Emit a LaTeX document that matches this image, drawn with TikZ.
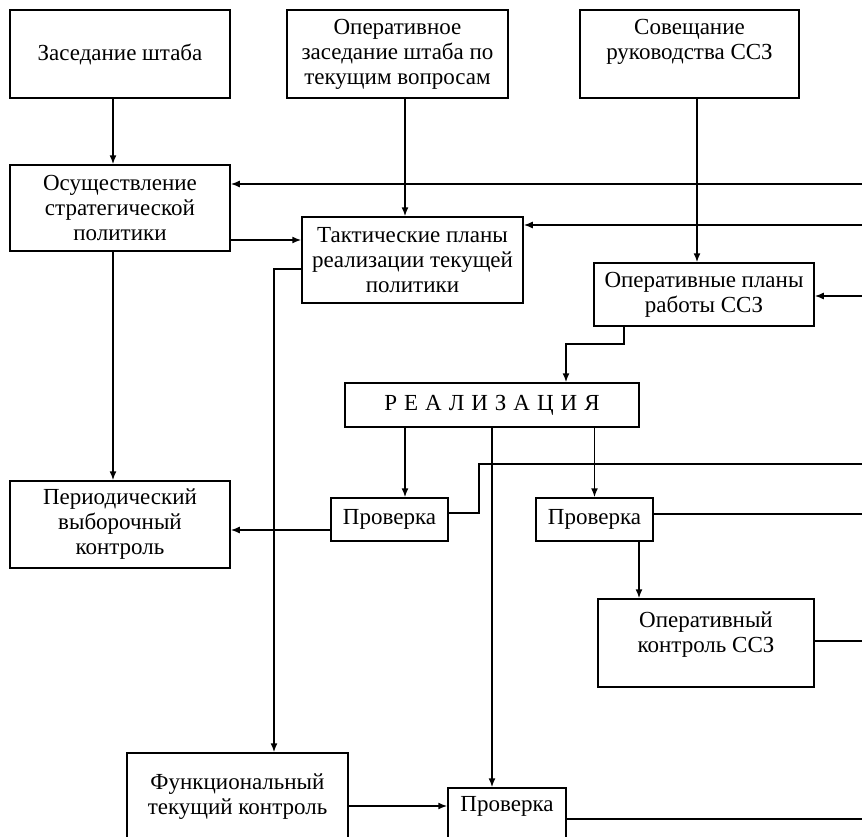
\documentclass[tikz,border=0pt]{standalone}
\usepackage{fontspec}
\setmainfont{Liberation Serif}
\usetikzlibrary{arrows.meta}

\begin{document}
\begin{tikzpicture}[x=1pt, y=-1pt, line width=1.5pt,
    box/.style={draw, align=center, inner sep=1pt,
      font=\fontsize{23}{25}\selectfont},
    arr/.style={-{Latex[length=9pt,width=7pt]}}]
  \clip (0,0) rectangle (862,836);
	% upper row
	\node[box, minimum width=220, minimum height=88] (shtab) at (120,54) {Заседание штаба};
	\node[box, minimum width=221, minimum height=88] (oper) at (397.5,54) {Оперативное\\заседание штаба по\\текущим вопросам};
	\node[box, minimum width=219, minimum height=88, text depth=30pt] (sov) at (689.5,54) {Совещание\\руководства ССЗ};
	% plans
	\node[box, minimum width=220, minimum height=86] (strat) at (120,208) {Осуществление\\стратегической\\политики};
	\node[box, minimum width=221, minimum height=86] (takt) at (412.5,260) {Тактические планы\\реализации текущей\\политики};
	\node[box, minimum width=220, minimum height=63] (oplan) at (704,294.5) {Оперативные планы\\работы ССЗ};
	\node[box, minimum width=294, minimum height=44] (real) at (492,405) {\spaceskip=7pt\relax Р Е А Л И З А Ц И Я};
	% control
	\node[box, minimum width=117, minimum height=43] (prov1) at (389.5,519.5) {Проверка};
	\node[box, minimum width=117, minimum height=43] (prov2) at (594.5,519.5) {Проверка};
	\node[box, minimum width=220, minimum height=87] (period) at (120,524.5) {Периодический\\выборочный\\контроль};
	\node[box, minimum width=216, minimum height=88, text depth=21pt] (opkontr) at (706,643) {Оперативный\\контроль ССЗ};
	\node[box, minimum width=221, minimum height=88] (func) at (237.5,797) {Функциональный\\текущий контроль};
	\node[box, minimum width=118, minimum height=60, text depth=29pt] (prov3) at (507,818) {Проверка};
	% free ends on the right side
	\coordinate (r1) at (862,184);
	\coordinate (r2) at (862,225);
	\coordinate (r3) at (862,296);
	\coordinate (e1) at (862,464);
	\coordinate (e2) at (862,514);
	\coordinate (e3) at (862,641);
	\coordinate (e4) at (862,819);
	% arrows down
	\draw[arr] ([xshift=-7pt]shtab.south) -- ([xshift=-7pt]strat.north);
	\draw[arr] ([xshift=7.5pt]oper.south) -- ([xshift=7.5pt]oper.south |- takt.north);
	\draw[arr] ([xshift=7.5pt]sov.south) -- ([xshift=7.5pt]sov.south |- oplan.north);
	\draw[arr] ([xshift=-7pt]strat.south) -- ([xshift=-7pt]period.north);
	\draw[arr] ([xshift=-80pt]oplan.south) -- ++(0,17) -| ([xshift=74pt]real.north);
	\draw[arr] ([xshift=-87pt]real.south) -- ([xshift=-87pt]real.south |- prov1.north);
	\draw[arr] (prov2.north |- real.south) -- (prov2.north);
	\draw[arr] (real.south) -- (real.south |- prov3.north);
	\draw[arr] ([xshift=44.5pt]prov2.south) -- ([xshift=44.5pt]prov2.south |- opkontr.north);
	\draw[arr] ([yshift=-9pt]takt.west) -| ([xshift=36.5pt]func.north);
	% arrows across
	\draw[arr] ([yshift=-32pt]strat.east) -- ([yshift=-32pt]strat.east -| takt.west);
	\draw[arr] ([yshift=-10.5pt]prov1.west) -- ([yshift=-10.5pt]prov1.west -| period.east);
	\draw[arr] ([yshift=-9pt]func.east) -- ([yshift=-9pt]func.east -| prov3.west);
	\draw[arr] (r1) -- (r1 -| strat.east);
	\draw[arr] (r2) -- (r2 -| takt.east);
	\draw[arr] (r3) -- (r3 -| oplan.east);
	% lines out to the right
	\draw ([yshift=6.5pt]prov1.east) -- ++(30,0) |- (e1);
	\draw (e2 -| prov2.east) -- (e2);
	\draw (e3 -| opkontr.east) -- (e3);
	\draw (e4 -| prov3.east) -- (e4);
\end{tikzpicture}
\end{document}
